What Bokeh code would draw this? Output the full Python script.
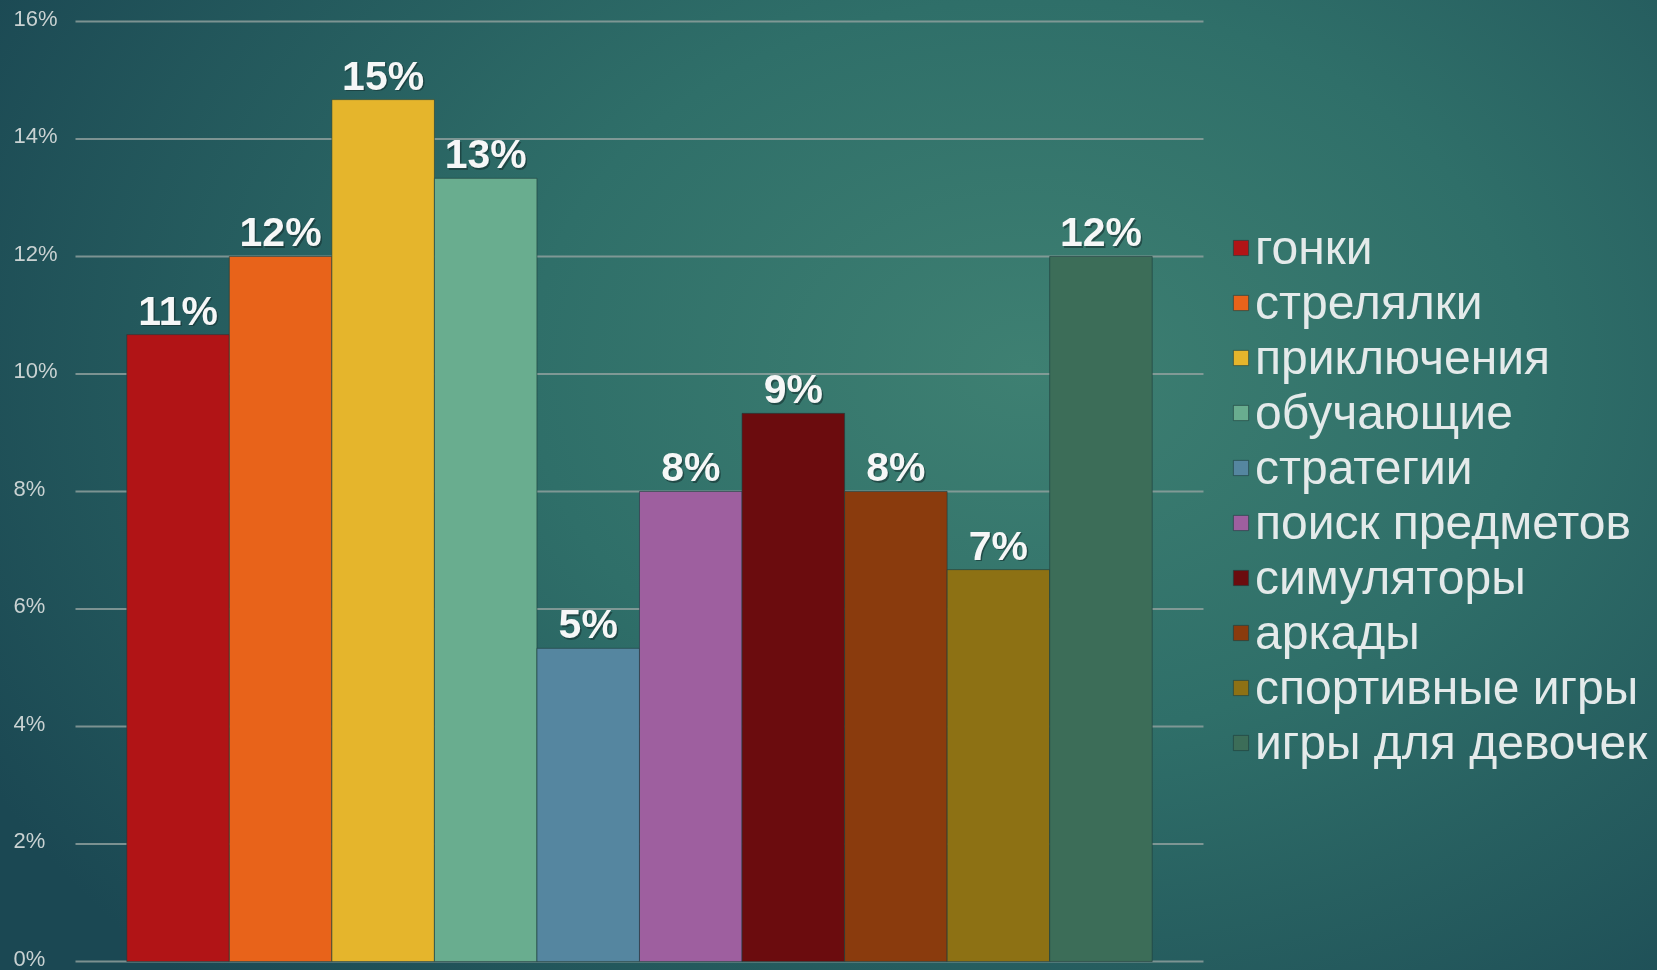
from bokeh.plotting import figure
from bokeh.models import ColumnDataSource, Range1d
from bokeh.core.properties import value
from bokeh.embed import file_html
from bokeh.resources import INLINE

# ---- data ----
categories = ["гонки", "стрелялки", "приключения", "обучающие", "стратегии",
              "поиск предметов", "симуляторы", "аркады", "спортивные игры",
              "игры для девочек"]
shares = [10.67, 12.0, 14.67, 13.33, 5.33, 8.0, 9.33, 8.0, 6.67, 12.0]
value_labels = ["11%", "12%", "15%", "13%", "5%", "8%", "9%", "8%", "7%", "12%"]
colors = ["#b11416", "#e8631a", "#e5b52c", "#69ad8f", "#5586a0",
          "#9e5f9f", "#6b0c0e", "#8a3b0d", "#8d7114", "#3c6d58"]
y_ticks = [0, 2, 4, 6, 8, 10, 12, 14, 16]
y_tick_labels = ["0%", "2%", "4%", "6%", "8%", "10%", "12%", "14%", "16%"]

# ---- layout constants ----
W, H = 1657, 970
n = len(categories)
xs = [i + 1 for i in range(n)]

src = ColumnDataSource(dict(x=xs, top=shares, color=colors, name=categories, lab=value_labels))

p = figure(width=W, height=H, output_backend="svg", toolbar_location=None,
           x_range=Range1d(-0.7314, 15.4274), y_range=Range1d(-0.1532, 16.357),
           x_axis_location=None, y_axis_location=None, min_border=0)
p.grid.visible = False
p.outline_line_color = None
p.background_fill_alpha = 0
p.border_fill_alpha = 0
p.styles = {
    "position": "fixed", "left": "0px", "top": "0px",
    "background": "radial-gradient(ellipse 75% 95% at 62% 38%, #3e8072 0%, #2f6f69 40%, #1b4853 95%)",
}

# grid lines
p.segment(x0=[0] * len(y_ticks), x1=[n + 1] * len(y_ticks), y0=y_ticks, y1=y_ticks,
          line_color="#93a3a0", line_width=2, line_alpha=0.8)

# tick labels
p.text(x=[-0.605] * len(y_ticks), y=y_ticks, text=y_tick_labels,
       text_align="left", text_baseline="middle", y_offset=-3,
       text_font=value("Liberation Sans"),
       text_font_size="22px", text_color="#c9d2d2")

# bars
p.vbar(x="x", top="top", width=1.0, fill_color="color", line_color="#1d3c3c",
       line_alpha=0.6, line_width=1, source=src, legend_field="name")

# value labels (shadow + text)
p.text(x="x", y="top", text="lab", source=src, text_align="center", text_baseline="alphabetic",
       x_offset=1.5, y_offset=-22.5, text_font=value("Liberation Sans"), text_font_style="bold",
       text_font_size="41px", text_color="#163030", text_alpha=0.6)
p.text(x="x", y="top", text="lab", source=src, text_align="center", text_baseline="alphabetic",
       y_offset=-24, text_font=value("Liberation Sans"), text_font_style="bold",
       text_font_size="41px", text_color="#f6f7f7")

lg = p.legend[0]
lg.location = (1231, 200)
lg.padding = 0
lg.margin = 0
lg.spacing = 0
lg.label_height = 52
lg.glyph_width = 19
lg.glyph_height = 19
lg.label_standoff = 5
lg.label_text_font = "Liberation Sans"
lg.label_text_font_size = "48px"
lg.label_text_color = "#e4eaea"
lg.background_fill_alpha = 0
lg.border_line_alpha = 0

open("out.html", "w").write(file_html(p, INLINE))
